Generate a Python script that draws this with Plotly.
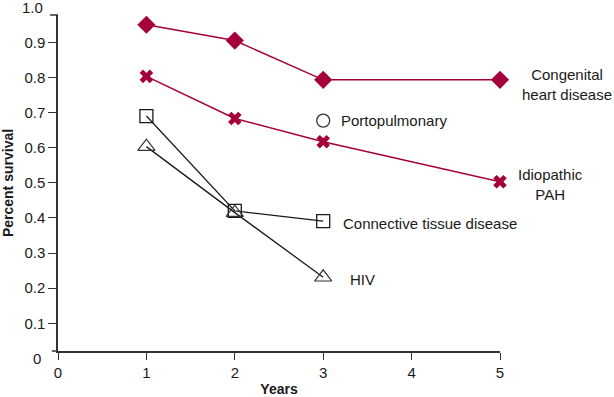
import plotly.graph_objects as go

years_main = [1, 2, 3, 5]
congenital = [0.95, 0.905, 0.793, 0.793]
idiopathic = [0.803, 0.683, 0.617, 0.503]
years_short = [1, 2, 3]
connective = [0.69, 0.42, 0.391]
hiv = [0.603, 0.415, 0.231]
porto_year = [3]
porto = [0.677]

y_ticks = [0.1, 0.2, 0.3, 0.4, 0.5, 0.6, 0.7, 0.8, 0.9]
y_tick_text = ["0.1", "0.2", "0.3", "0.4", "0.5", "0.6", "0.7", "0.8", "0.9"]
x_ticks = [0, 1, 2, 3, 4, 5]

RED = "#a6003a"
BLK = "#1a1a1a"
FONT = "Liberation Sans, Arial, sans-serif"
FS = 15

YR = [0.0211, 0.9777]


def ypaper(v):
    return (v - YR[0]) / (YR[1] - YR[0])


fig = go.Figure()
fig.add_trace(go.Scatter(x=years_main, y=congenital, mode="lines+markers",
                         line=dict(color=RED, width=1.5),
                         marker=dict(symbol="diamond", size=14, color=RED),
                         cliponaxis=False, showlegend=False))
fig.add_trace(go.Scatter(x=years_main, y=idiopathic, mode="lines+markers",
                         line=dict(color=RED, width=1.5),
                         marker=dict(symbol="x", size=12, color=RED),
                         cliponaxis=False, showlegend=False))
fig.add_trace(go.Scatter(x=years_short, y=connective, mode="lines+markers",
                         line=dict(color=BLK, width=1.3),
                         marker=dict(symbol="square-open", size=13, color=BLK,
                                     line=dict(width=1.3)),
                         cliponaxis=False, showlegend=False))
fig.add_trace(go.Scatter(x=years_short, y=hiv, mode="lines+markers",
                         line=dict(color=BLK, width=1.3),
                         marker=dict(symbol="triangle-up-open", size=15, color="#333",
                                     line=dict(width=1.2)),
                         cliponaxis=False, showlegend=False))
fig.add_trace(go.Scatter(x=porto_year, y=porto, mode="markers",
                         marker=dict(symbol="circle-open", size=13, color="#333",
                                     line=dict(width=1.3)),
                         cliponaxis=False, showlegend=False))

tf = dict(family=FONT, size=FS, color="#1a1a1a")
labels = [
    (3.184, 0.677, "Portopulmonary"),
    (3.203, 0.385, "Connective tissue disease"),
    (3.286, 0.225, "HIV"),
]
for x, y, t in labels:
    fig.add_annotation(x=x, y=y, xref="x", yref="y", text=t, showarrow=False,
                       xanchor="left", yanchor="middle", align="left", font=tf)
fig.add_annotation(x=1.1514, y=ypaper(0.781), xref="paper", yref="paper",
                   text="Congenital<br>heart disease", showarrow=False,
                   xanchor="center", yanchor="middle", align="center", font=tf)
fig.add_annotation(x=1.1136, y=ypaper(0.494), xref="paper", yref="paper",
                   text="Idiopathic<br>PAH", showarrow=False,
                   xanchor="center", yanchor="middle", align="center", font=tf)

fig.add_annotation(x=-0.029, y=ypaper(1.0), xref="paper", yref="paper", text="1.0",
                   showarrow=False, xanchor="right", yanchor="middle", font=tf)
fig.add_annotation(x=-0.034, y=ypaper(0.0), xref="paper", yref="paper", text="0",
                   showarrow=False, xanchor="right", yanchor="middle", font=tf)

fig.add_shape(type="line", xref="paper", yref="paper", x0=-0.018, x1=0, y0=1, y1=1,
              line=dict(color="#333", width=1.5))
fig.add_shape(type="line", xref="paper", yref="paper", x0=-0.014, x1=0, y0=0, y1=0,
              line=dict(color="#333", width=1.5))

fig.update_xaxes(range=[0, 5], tickvals=x_ticks, showline=True, linecolor="#333",
                 linewidth=1.5, ticks="outside", ticklen=7, tickcolor="#333",
                 tickwidth=1.3, showgrid=False, zeroline=False, tickfont=tf,
                 automargin=False,
                 title=dict(text="<b>Years</b>", font=dict(family=FONT, size=14, color="#1a1a1a"),
                            standoff=8))
fig.update_yaxes(range=YR, tickvals=y_ticks, ticktext=y_tick_text, showline=True,
                 linecolor="#333", linewidth=1.5, ticks="outside", ticklen=8,
                 tickcolor="#333", tickwidth=1.3, showgrid=False, zeroline=False,
                 tickfont=tf, automargin=False,
                 title=dict(text="<b>Percent survival</b>",
                            font=dict(family=FONT, size=14, color="#1a1a1a"), standoff=10))

fig.update_layout(width=614, height=397, margin=dict(l=58, r=114, t=15, b=46),
                  plot_bgcolor="white", paper_bgcolor="white", font=tf)

fig.write_html("out.html", config={"displayModeBar": False},
               post_script="document.body.style.margin='0';")
